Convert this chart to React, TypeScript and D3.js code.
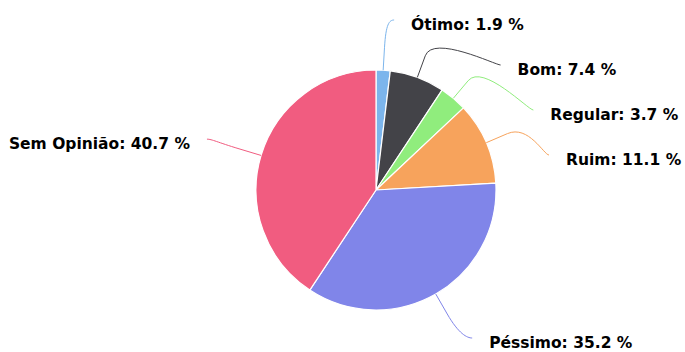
import React from "react";
import * as d3 from "d3";

const categories = ["Ótimo", "Bom", "Regular", "Ruim", "Péssimo", "Sem Opinião"];
const values = [1.9, 7.4, 3.7, 11.1, 35.2, 40.7];
const colors = ["#7cb5ec", "#434348", "#90ed7d", "#f7a35c", "#8085e9", "#f15c80"];

const W = 685;
const H = 352;
const cx = 376;
const cy = 190;
const r = 120;
const labelR = 176.5;
const breakR = 143;
const gap = 45;
const topLimit = 20;
const bottomLimit = 338;
const fontSize = 15.5;

export default function App() {
  const pie = d3.pie<number>().sort(null).value((d) => d).startAngle(0).endAngle(2 * Math.PI);
  const arcs = pie(values);
  const arcGen = d3.arc<d3.PieArcDatum<number>>().innerRadius(0).outerRadius(r);

  type L = { i: number; mid: number; right: boolean; natY: number; y: number };
  const labels: L[] = arcs.map((a, i) => {
    const mid = (a.startAngle + a.endAngle) / 2;
    const natY = cy - labelR * Math.cos(mid);
    return { i, mid, right: Math.sin(mid) >= 0, natY, y: natY };
  });
  [true, false].forEach((side) => {
    const group = labels.filter((l) => l.right === side).sort((a, b) => a.natY - b.natY);
    let prev = -Infinity;
    group.forEach((l) => {
      l.y = Math.max(l.natY, prev + gap, topLimit);
      prev = l.y;
    });
    for (let k = group.length - 1; k >= 0; k--) {
      const lim = k === group.length - 1 ? bottomLimit : group[k + 1].y - gap;
      if (group[k].y > lim) group[k].y = lim;
    }
  });

  const xFromY = (l: L) => {
    const useY = Math.abs(l.y - cy) > 0.9 * labelR ? l.natY + 0.1 * (l.y - l.natY) : l.y;
    const dy = Math.max(-labelR, Math.min(labelR, useY - cy));
    const dx = Math.sqrt(labelR * labelR - dy * dy);
    return cx + (l.right ? dx : -dx);
  };

  return (
    <svg width={W} height={H} style={{ position: "absolute", left: 0, top: 0 }}>
      <rect width={W} height={H} fill="#ffffff" />
      <g transform={`translate(${cx},${cy})`}>
        {arcs.map((a, i) => (
          <path key={i} d={arcGen(a) || ""} fill={colors[i]} stroke="#ffffff" strokeWidth={1.2} strokeLinejoin="round" />
        ))}
      </g>
      {labels.map((l) => {
        const ax = xFromY(l);
        const ay = l.y;
        const tx = cx + r * Math.sin(l.mid);
        const ty = cy - r * Math.cos(l.mid);
        const bx = cx + breakR * Math.sin(l.mid);
        const by = cy - breakR * Math.cos(l.mid);
        const p = d3.path();
        p.moveTo(ax, ay);
        p.bezierCurveTo(ax + (l.right ? -5 : 5), ay, 2 * bx - tx, 2 * by - ty, bx, by);
        p.lineTo(tx, ty);
        const textX = ax + (l.right ? 17 : -17);
        return (
          <g key={l.i}>
            <path d={p.toString()} fill="none" stroke={colors[l.i]} strokeWidth={1} />
            <text
              x={textX}
              y={ay + 4}
              dy="0.36em"
              textAnchor={l.right ? "start" : "end"}
              fontFamily="'DejaVu Sans', Verdana, sans-serif"
              fontWeight="bold"
              fontSize={fontSize}
              fill="#000000"
              stroke="#ffffff"
              strokeWidth={2}
              paintOrder="stroke"
            >
              {`${categories[l.i]}: ${values[l.i].toFixed(1)} %`}
            </text>
          </g>
        );
      })}
    </svg>
  );
}
